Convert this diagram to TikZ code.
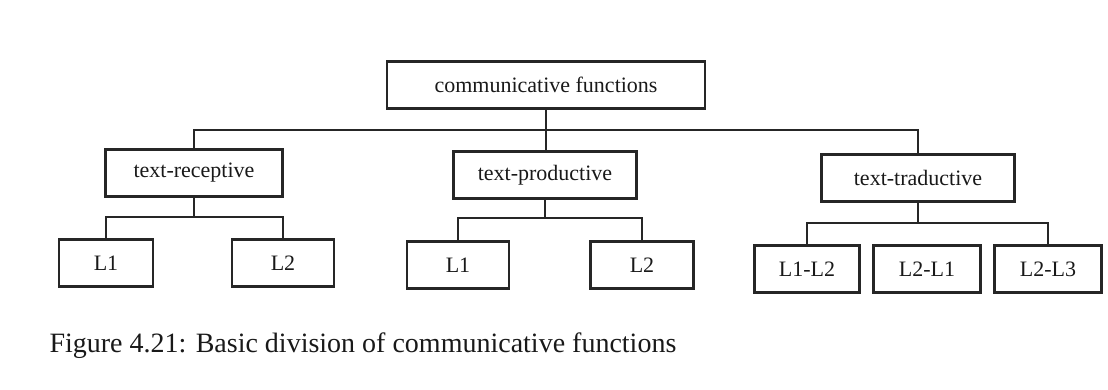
\documentclass[tikz,border=0pt]{standalone}
\usepackage{fontspec}
\setmainfont{Liberation Serif}
\usetikzlibrary{calc}

\tikzset{
    box/.style={draw=black!85, line width=2.5pt, minimum height=47pt, inner sep=0pt,
        text=black!90, font=\fontsize{22}{26}\selectfont},
    link/.style={draw=black!85, line width=2.4pt}
}

\begin{document}
\begin{tikzpicture}[x=1pt, y=-1pt]

            \useasboundingbox (0,0) rectangle (1108,390);

            \node (top) [box, minimum width=318pt] at (546,85) {communicative functions};

            \node (rec)  [box, minimum width=177pt] at (194,173) {text-receptive};
            \node (prod) [box, minimum width=183pt] at (545,175) {text-productive};
            \node (trad) [box, minimum width=193pt] at (918,178) {text-traductive};

            \node (recA)  [box, minimum width=94pt]  at (106,263) {L1};
            \node (recB)  [box, minimum width=102pt] at (283,263) {L2};
            \node (prodA) [box, minimum width=102pt] at (458,265) {L1};
            \node (prodB) [box, minimum width=103pt] at (642,265) {L2};
            \node (tradA) [box, minimum width=105pt] at (807,269) {L1-L2};
            \node (tradB) [box, minimum width=107pt] at (927,269) {L2-L1};
            \node (tradC) [box, minimum width=107pt] at (1048,269) {L2-L3};

            \coordinate (topbus)  at (546,130);
            \coordinate (recbus)  at (194,217);
            \coordinate (prodbus) at (545,218);
            \coordinate (tradbus) at (918,223);

            \draw [link] (top.south) -- (top.south |- prod.north);
            \draw [link] (rec.north) |- (topbus) -| (trad.north);

            \draw [link] (rec.south) -- (recbus);
            \draw [link] (recA.north) |- (recbus) -| (recB.north);

            \draw [link] (prod.south) -- (prodbus);
            \draw [link] (prodA.north) |- (prodbus) -| (prodB.north);

            \draw [link] (trad.south) -- (tradbus);
            \draw [link] (tradA.north) |- (tradbus) -| (tradC.north);

            \node (caption) [anchor=base west, text=black!90, font=\fontsize{28}{32}\selectfont]
                at (46,352) {Figure 4.21: Basic division of communicative functions};

        \end{tikzpicture}
\end{document}
